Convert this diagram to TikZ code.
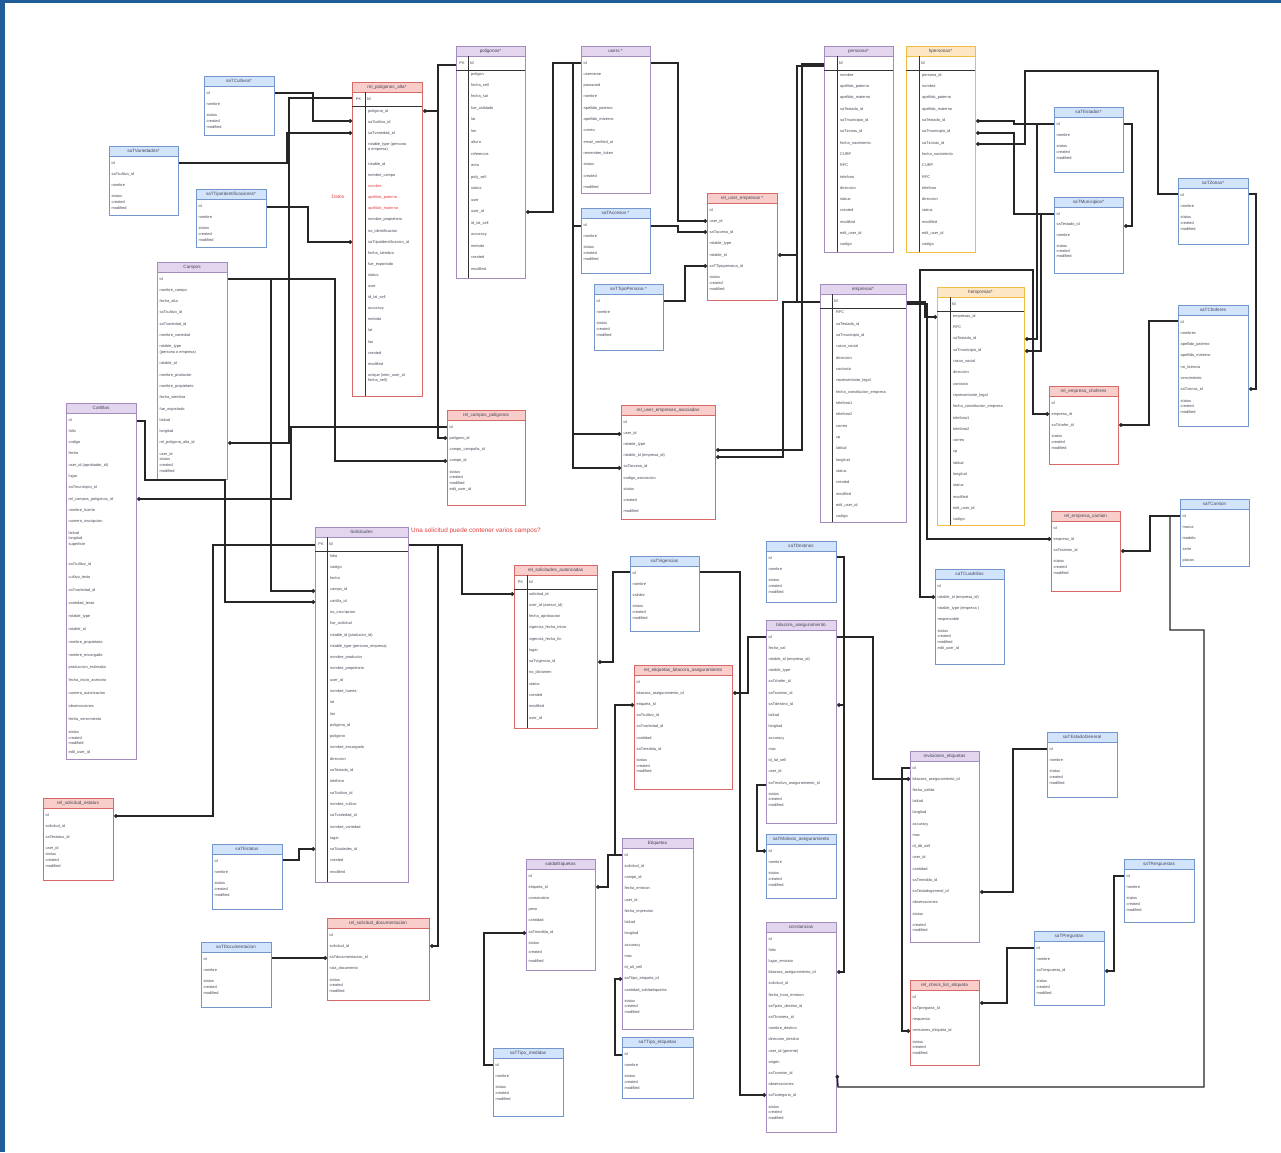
\documentclass[tikz,border=0pt]{standalone}
\usepackage{fontspec}
\setmainfont{Liberation Sans}
\usetikzlibrary{arrows.meta}
\definecolor{puB}{RGB}{165,140,190}\definecolor{puH}{RGB}{226,213,237}
\definecolor{blB}{RGB}{115,150,205}\definecolor{blH}{RGB}{210,228,252}
\definecolor{reB}{RGB}{215,105,105}\definecolor{reH}{RGB}{248,205,202}
\definecolor{yeB}{RGB}{238,190,60}\definecolor{yeH}{RGB}{252,230,195}
\definecolor{frameblue}{RGB}{32,92,152}
\definecolor{txt}{RGB}{70,70,85}
\definecolor{redtxt}{RGB}{230,60,60}
\newcommand\fx{2.5}
\newcommand\fy{15}
\newcommand\gb{\\[-5.6pt]}
\newcommand\nb{\\[1.6pt]}
\newcommand\scm{status\gb created\gb modified}
\newcommand\rd[1]{\textcolor{redtxt}{#1}}
% #1 spacing, #2 name, #3 scheme, #4 x1, #5 y1, #6 x2, #7 y2, #8 title, #9 fields
\newcommand\tbl[9][11.3]{%
  \fill[#3H] (#4,#5) rectangle (#6,{#5+10});
  \draw[#3B,line width=.8pt] (#4,{#5+10}) -- (#6,{#5+10});
  \node[draw=#3B,line width=1.2pt,inner sep=0,minimum width={(#6-#4)*1pt},minimum height={(#7-#5)*1pt},anchor=north west] (#2) at (#4,#5) {};
  \node[font=\fontsize{4.6}{5}\selectfont,text=txt,inner sep=0] at ({(#4+#6)/2},{#5+5}) {#8};
  \node[font=\fontsize{3.9}{#1}\selectfont,text=txt,align=left,inner sep=0,anchor=north west] at ({#4+\fx},{#5+\fy}) {#9};
}
% x1 y1 x2 y2 colw pktext
\newcommand\pkrow[6]{%
  \draw[line width=.9pt,black!80] ({#1+#5},{#2+10}) -- ({#1+#5},#4);
  \draw[line width=.9pt,black!80] (#1,{#2+24}) -- (#3,{#2+24});
  \node[font=\fontsize{3.8}{4}\selectfont,text=txt,inner sep=0] at ({#1+#5/2},{#2+17}) {#6};
  \node[font=\fontsize{4.2}{4.5}\selectfont,text=txt,inner sep=0,anchor=west] at ({#1+#5+2},{#2+17}) {Id};
}
\begin{document}
\catcode`\_=12
\begin{tikzpicture}[x=1pt,y=-1pt,
  conn/.style={line width=1.45pt,draw=black!85},
  edot/.style={-{Circle[length=3.6pt]}},
  sdot/.style={{Circle[length=3.6pt]}-}]
\useasboundingbox (0,0) rectangle (1281,1152);
\fill[white] (0,0) rectangle (1281,1152);
\fill[frameblue] (0,0) rectangle (5,1152);
\fill[frameblue] (0,0) rectangle (1281,3);

% ---------- tables ----------
\tbl{cult}{bl}{204}{76}{274}{135}{saTCultivos*}{id\\nombre\\\scm}
\tbl{vari}{bl}{109}{146}{178}{215}{saTVariedades*}{id\\saTcultivo_id\\nombre\\\scm}
\tbl{tid}{bl}{196}{189}{266}{247}{saTTipoIdentificaciones*}{id\\nombre\\\scm}
\tbl{campos}{pu}{157}{262}{227}{479}{Campos}{id\\nombre_campo\\fecha_alta\\saTcultivo_id\\saTvariedad_id\\nombre_variedad\\rotable_type\gb (persona o empresa)\\rotable_id\\nombre_productor\\nombre_propietario\\fecha_siembra\\fue_exportado\\latitud\\longitud\\rel_poligono_alta_id\\user_id\gb status\gb created\gb modified}
\tbl{cart}{pu}{66}{403}{136}{759}{Cartillas}{id\\folio\\codigo\\fecha\\user_id (aprobador_id)\\lugar\\saTmunicipio_id\\rel_campos_poligonos_id\\nombre_huerto\\numero_inscripcion\\latitud\gb longitud\gb superficie\\[9pt]saTcultivo_id\nb cultivo_texto\nb saTvariedad_id\nb variedad_texto\nb rotable_type\nb rotable_id\nb nombre_propietario\nb nombre_encargado\nb produccion_estimada\nb fecha_inicio_asesoria\nb numero_autorizacion\nb observaciones\nb fecha_vencimiento\nb status\gb created\gb modified\\[-2.5pt]edit_user_id}
{\renewcommand\fx{16}\renewcommand\fy{27}
\tbl[11.1]{relpa}{re}{352}{82}{422}{396}{rel_poligonos_alta*}{poligono_id\\saTcultivo_id\\saTvariedad_id\\rotable_type (persona\gb o empresa)\\[3.5pt]rotable_id\\nombre_campo\\\rd{nombre}\\\rd{apellido_paterno}\\\rd{apellido_materno}\\nombre_propietario\\no_identificacion\\saTtipoIdentificacion_id\\fecha_siembra\\fue_exportado\\status\\user\\id_lat_sell\\accuracy\\metodo\\lat\\lon\\created\\modified\\unique (inter_user_id\gb fecha_sell)}}
\pkrow{352}{82}{422}{396}{13}{PK}
{\renewcommand\fx{15}\renewcommand\fy{26}
\tbl[11.47]{polig}{pu}{456}{46}{525}{278}{poligonos*}{poligon\\fecha_sell\\fecha_sal\\fue_validado\\lat\\lon\\altura\\referencia\\area\\poly_sell\\status\\user\\user_id\\id_lat_sell\\accuracy\\metodo\\created\\modified}}
\pkrow{456}{46}{525}{278}{12}{PK}
\tbl{users}{pu}{581}{46}{650}{193}{users *}{id\\username\\password\\nombre\\apellido_paterno\\apellido_materno\\correo\\email_verified_at\\remember_token\\status\\created\\modified}
\tbl{acc}{bl}{581}{208}{650}{273}{saTAccesos *}{id\\nombre\\\scm}
\tbl{tper}{bl}{594}{284}{663}{350}{saTTipoPersona *}{id\\nombre\\\scm}
\tbl{relue}{re}{707}{193}{777}{300}{rel_user_empresas *}{id\\user_id\\saTacceso_id\\rotable_type\\rotable_id\\saTTipopersona_id\\\scm}
{\renewcommand\fx{16}\renewcommand\fy{27}
\tbl[11.33]{pers}{pu}{824}{46}{893}{252}{personas*}{nombre\\apellido_paterno\\apellido_materno\\saTestado_id\\saTmunicipio_id\\saTzonas_id\\fecha_nacimiento\\CURP\\RFC\\telefono\\direccion\\status\\created\\modified\\edit_user_id\\codigo}
\tbl[11.33]{hpers}{ye}{906}{46}{975}{252}{hpersonas*}{persona_id\\nombre\\apellido_paterno\\apellido_materno\\saTestado_id\\saTmunicipio_id\\saTzonas_id\\fecha_nacimiento\\CURP\\RFC\\telefono\\direccion\\status\\modified\\edit_user_id\\codigo}
\tbl[11.33]{emp}{pu}{820}{284}{906}{522}{empresas*}{RFC\\saTestado_id\\saTmunicipio_id\\razon_social\\direccion\\contacto\\representante_legal\\fecha_constitucion_empresa\\telefono1\\telefono2\\correo\\cp\\latitud\\longitud\\status\\created\\modified\\edit_user_id\\codigo}
\tbl[11.33]{hemp}{ye}{937}{287}{1024}{525}{hempresas*}{empresas_id\\RFC\\saTestado_id\\saTmunicipio_id\\razon_social\\direccion\\contacto\\representante_legal\\fecha_constitucion_empresa\\telefono1\\telefono2\\correo\\cp\\latitud\\longitud\\status\\modified\\edit_user_id\\codigo}}
\pkrow{824}{46}{893}{252}{13}{}
\pkrow{906}{46}{975}{252}{13}{}
\pkrow{820}{284}{906}{522}{12}{}
\pkrow{937}{287}{1024}{525}{13}{}
\tbl{edo}{bl}{1054}{107}{1123}{172}{saTEstados*}{id\\nombre\\\scm}
\tbl[10.8]{mun}{bl}{1054}{197}{1123}{273}{saTMunicipios*}{id\\saTestado_id\\nombre\\\scm}
\tbl{zon}{bl}{1178}{178}{1248}{244}{saTZonas*}{id\\nombre\\\scm}
\tbl{chof}{bl}{1178}{305}{1248}{426}{saTChoferes}{id\\nombres\\apellido_paterno\\apellido_materno\\no_licencia\\vencimiento\\saTzonas_id\\\scm}
\tbl{relec}{re}{1049}{386}{1118}{464}{rel_empresa_choferes}{id\\empresa_id\\saTchofer_id\\\scm}
\tbl{relecam}{re}{1051}{511}{1120}{591}{rel_empresa_camion}{id\\empresa_id\\saTcamion_id\\\scm}
\tbl[11.2]{cam}{bl}{1180}{499}{1249}{566}{saTCamion}{id\\marca\\modelo\\serie\\placas}
\tbl{cuad}{bl}{935}{569}{1004}{664}{saTCuadrillas}{id\\rotable_id (empresa_id)\\rotable_type (empresa )\\responsable\\status\gb created\gb modified\gb edit_user_id}
\tbl[11.2]{relusa}{re}{621}{405}{715}{519}{rel_user_empresas_asociadas}{id\\user_id\\rotable_type\\rotable_id (empresa_id)\\saTacceso_id\\codigo_asociacion\\status\\created\\modified}
\tbl{relcp}{re}{447}{410}{525}{505}{rel_campos_poligonos}{id\\poligono_id\\campo_campaña_id\\campo_id\\status\gb created\gb modified\gb edit_user_id}
{\renewcommand\fx{15}\renewcommand\fy{27}
\tbl[11.29]{sol}{pu}{315}{527}{408}{882}{Solicitudes}{folio\\codigo\\fecha\\campo_id\\cartilla_id\\no_inscripcion\\fue_solicitud\\rotable_id (productor_id)\\rotable_type (persona_empresa)\\nombre_productor\\nombre_propietario\\user_id\\nombre_huerta\\lat\\lon\\poligono_id\\poligono\\nombre_encargado\\direccion\\saTestado_id\\telefono\\saTcultivo_id\\nombre_cultivo\\saTvariedad_id\\nombre_variedad\\lugar\\saTciudades_id\\created\\modified}
\tbl[11.27]{relsa}{re}{514}{565}{597}{728}{rel_solicitudes_autorizadas}{solicitud_id\\user_id (asesor_id)\\fecha_aprobacion\\vigencia_fecha_inicio\\vigencia_fecha_fin\\lugar\\saTvigencia_id\\no_dictamen\\status\\created\\modified\\user_id}}
\pkrow{315}{527}{408}{882}{12}{PK}
\pkrow{514}{565}{597}{728}{13}{PK}
\tbl{vig}{bl}{630}{556}{699}{631}{saTVigencias}{id\\nombre\\validez\\\scm}
\tbl{relse}{re}{43}{798}{113}{880}{rel_solicitud_estatus}{id\\solicitud_id\\saTestatus_id\\user_id\gb status\gb created\gb modified}
\tbl{estat}{bl}{212}{844}{282}{909}{saTEstatus}{id\\nombre\\\scm}
\tbl{doc}{bl}{201}{942}{271}{1007}{saTDocumentacion}{id\\nombre\\\scm}
\tbl{relsd}{re}{327}{918}{429}{1000}{rel_solicitud_documentacion}{id\\solicitud_id\\saTdocumentacion_id\\ruta_documento\\\scm}
\tbl[11.2]{saldo}{pu}{526}{859}{595}{970}{saldoEtiquetas}{id\\etiqueta_id\\consecutivo\\peso\\cantidad\\saTmedida_id\\status\\[-2pt]created\\[-2pt]modified}
\tbl{tmed}{bl}{493}{1048}{563}{1116}{saTTipo_medidas}{id\\nombre\\\scm}
\tbl[11.25]{etiq}{pu}{622}{838}{693}{1029}{Etiquetas}{id\\solicitud_id\\campo_id\\fecha_emision\\user_id\\fecha_impresion\\latitud\\longitud\\accuracy\\mac\\id_alt_sell\\saTtipo_etiqueta_id\\cantidad_saldoetiquetas\\\scm}
\tbl{tetiq}{bl}{622}{1037}{693}{1098}{saTTipo_etiquetas}{id\\nombre\\\scm}
\tbl{dest}{bl}{766}{541}{836}{602}{saTDestinos}{id\\nombre\\\scm}
\tbl[11.2]{releb}{re}{634}{665}{732}{789}{rel_etiquetas_bitacora_aseguramiento}{id\\bitacora_aseguramiento_id\\etiqueta_id\\saTcultivo_id\\saTvariedad_id\\cantidad\\saTmedida_id\\\scm}
\tbl[11.23]{bit}{pu}{766}{620}{836}{823}{bitacora_aseguramiento}{id\\fecha_sal\\rotable_id (empresa_id)\\rotable_type\\saTchofer_id\\saTcamion_id\\saTdestino_id\\latitud\\longitud\\accuracy\\mac\\id_lat_sell\\user_id\\saTmotivo_aseguramiento_id\\\scm}
\tbl{motiv}{bl}{766}{834}{836}{898}{saTMotivos_aseguramiento}{id\\nombre\\\scm}
\tbl[11.2]{const}{pu}{766}{922}{836}{1132}{constancias}{id\\folio\\lugar_emision\\bitacora_aseguramiento_id\\solicitud_id\\fecha_hora_emision\\saTpais_destino_id\\saTfrontera_id\\nombre_destino\\direccion_destino\\user_id (gerente)\\origen\\saTcamion_id\\observaciones\\saTcategoria_id\\\scm}
\tbl[11.23]{revis}{pu}{910}{751}{979}{942}{revisiones_etiquetas}{id\\bitacora_aseguramiento_id\\fecha_salida\\latitud\\longitud\\accuracy\\mac\\id_db_sell\\user_id\\cantidad\\saTmedida_id\\saTestadogeneral_id\\observaciones\\status\\created\gb modified}
\tbl{edog}{bl}{1047}{732}{1117}{797}{saTEstadoGeneral}{id\\nombre\\\scm}
\tbl{relcl}{re}{910}{980}{979}{1065}{rel_check_list_etiqueta}{id\\saTpregunta_id\\respuesta\\revisiones_etiqueta_id\\\scm}
\tbl{resp}{bl}{1124}{859}{1194}{922}{saTRespuestas}{id\\nombre\\\scm}
\tbl{preg}{bl}{1034}{931}{1104}{1005}{saTPreguntas}{id\\nombre\\saTrespuesta_id\\\scm}

% ---------- labels ----------
\node[text=redtxt,font=\fontsize{4.8}{5}\selectfont] (datos) at (338,197) {Datos};
\node[text=redtxt,font=\fontsize{6.4}{7}\selectfont,anchor=west,inner sep=0] (question) at (411,531) {Una solicitud puede contener varios campos?};

% ---------- connectors ----------
\draw[conn,edot] (cult.east|-0,93) -- (313,93) -- (313,121) -- (relpa.west|-0,121);
\draw[conn,edot] (relpa.west|-0,98) -- (289,98) -- (289,443) -- (campos.east|-0,443);
\draw[conn,edot] (vari.east|-0,163) -- (287,163) -- (287,133) -- (relpa.west|-0,133);
\draw[conn,edot] (tid.east|-0,207) -- (308,207) -- (308,242) -- (relpa.west|-0,242);
\draw[conn,edot] (campos.east|-0,279) -- (335,279) -- (335,461) -- (relcp.west|-0,461);
\draw[conn,edot] (campos.east|-0,279) -- (271,279) -- (271,591) -- (sol.west|-0,591);
\draw[conn,edot] (cart.east|-0,421) -- (145,421) -- (145,480) -- (225,480) -- (225,602) -- (sol.west|-0,602);
\draw[conn,edot] (relcp.west|-0,427) -- (291,427) -- (291,499) -- (cart.east|-0,499);
\draw[conn,edot] (polig.west|-0,65) -- (438,65) -- (438,438) -- (relcp.west|-0,438);
\draw[conn,edot] (438,111) -- (relpa.east|-0,111);
\draw[conn,edot] (users.west|-0,63) -- (553,63) -- (553,212) -- (polig.east|-0,212);
\draw[conn,edot] (users.west|-0,63) -- (573,63) -- (573,434) -- (relusa.west|-0,434);
\draw[conn,edot] (acc.west|-0,226) -- (573,226) -- (573,468) -- (relusa.west|-0,468);
\draw[conn,edot] (users.east|-0,63) -- (678,63) -- (678,221) -- (relue.west|-0,221);
\draw[conn,edot] (acc.east|-0,226) -- (678,226) -- (678,232) -- (relue.west|-0,232);
\draw[conn,edot] (tper.east|-0,301) -- (685,301) -- (685,266) -- (relue.west|-0,266);
\draw[conn,sdot] (relue.east|-0,255) -- (797,255) -- (797,66) -- (pers.west|-0,66);
\draw[conn] (797,255) -- (797,302) -- (emp.west|-0,302);
\draw[conn,edot] (pers.west|-0,64) -- (802,64) -- (802,450) -- (relusa.east|-0,450);
\draw[conn,edot] (emp.west|-0,302) -- (783,302) -- (783,457) -- (relusa.east|-0,457);
\draw[conn,edot] (emp.east|-0,302) -- (925,302) -- (925,317) -- (hemp.west|-0,317);
\draw[conn,edot] (emp.east|-0,302) -- (920,302) -- (920,270) -- (1033,270) -- (1033,414) -- (relec.west|-0,414);
\draw[conn,edot] (920,302) -- (920,597) -- (cuad.west|-0,597);
\draw[conn,edot] (emp.east|-0,304) -- (927,304) -- (927,539) -- (relecam.west|-0,539);
\draw[conn,sdot] (hpers.east|-0,121) -- (1014,121) -- (1014,124) -- (edo.west|-0,124);
\draw[conn,edot] (edo.west|-0,124) -- (1037,124) -- (1037,339) -- (hemp.east|-0,339);
\draw[conn,edot] (edo.east|-0,124) -- (1132,124) -- (1132,226) -- (mun.east|-0,226);
\draw[conn,edot] (mun.west|-0,214) -- (1014,214) -- (1014,133) -- (hpers.east|-0,133);
\draw[conn,edot] (mun.west|-0,214) -- (1041,214) -- (1041,351) -- (hemp.east|-0,351);
\draw[conn,sdot] (hpers.east|-0,144) -- (1025,144) -- (1025,71) -- (1158,71) -- (1158,194) -- (zon.west|-0,194);
\draw[conn,edot] (zon.east|-0,194) -- (1256,194) -- (1256,389) -- (chof.east|-0,389);
\draw[conn,edot] (chof.west|-0,321) -- (1149,321) -- (1149,425) -- (relec.east|-0,425);
\draw[conn,edot] (cam.west|-0,516) -- (1150,516) -- (1150,551) -- (relecam.east|-0,551);
\draw[conn,edot] (cam.west|-0,516) -- (1170,516) -- (1170,630) -- (1204,630) -- (1204,1087) -- (838,1087) -- (const.east|-0,1075);
\draw[conn,edot] (sol.east|-0,545) -- (462,545) -- (462,594) -- (relsa.west|-0,594);
\draw[conn,edot] (sol.east|-0,545) -- (438,545) -- (438,946) -- (relsd.east|-0,946);
\draw[conn,sdot] (relse.east|-0,816) -- (213,816) -- (213,545) -- (sol.west|-0,545);
\draw[conn,edot] (estat.east|-0,860) -- (299,860) -- (299,849) -- (sol.west|-0,849);
\draw[conn,edot] (doc.east|-0,958) -- (relsd.west|-0,958);
\draw[conn,edot] (vig.west|-0,572) -- (613,572) -- (613,662) -- (relsa.east|-0,662);
\draw[conn,edot] (vig.east|-0,572) -- (740,572) -- (740,1095) -- (const.west|-0,1095);
\draw[conn,edot] (etiq.west|-0,855) -- (615,855) -- (615,705) -- (releb.west|-0,705);
\draw[conn,edot] (etiq.west|-0,855) -- (608,855) -- (608,887) -- (saldo.east|-0,887);
\draw[conn,edot] (tmed.west|-0,1065) -- (484,1065) -- (484,933) -- (saldo.west|-0,933);
\draw[conn,edot] (tetiq.west|-0,1055) -- (615,1055) -- (615,979) -- (etiq.west|-0,979);
\draw[conn,edot] (bit.west|-0,637) -- (748,637) -- (748,693) -- (releb.east|-0,693);
\draw[conn,edot] (bit.east|-0,637) -- (873,637) -- (873,779) -- (revis.west|-0,779);
\draw[conn,edot] (dest.east|-0,557) -- (844,557) -- (844,972) -- (const.east|-0,972);
\draw[conn,edot] (844,705) -- (bit.east|-0,705);
\draw[conn,sdot] (motiv.west|-0,851) -- (757,851) -- (757,785) -- (bit.west|-0,785);
\draw[conn,edot] (revis.west|-0,768) -- (902,768) -- (902,1031) -- (relcl.west|-0,1031);
\draw[conn,edot] (edog.west|-0,749) -- (1013,749) -- (1013,892) -- (revis.east|-0,892);
\draw[conn,edot] (preg.west|-0,948) -- (1007,948) -- (1007,1003) -- (relcl.east|-0,1003);
\draw[conn,edot] (resp.west|-0,876) -- (1114,876) -- (1114,971) -- (preg.east|-0,971);
\end{tikzpicture}
\end{document}
